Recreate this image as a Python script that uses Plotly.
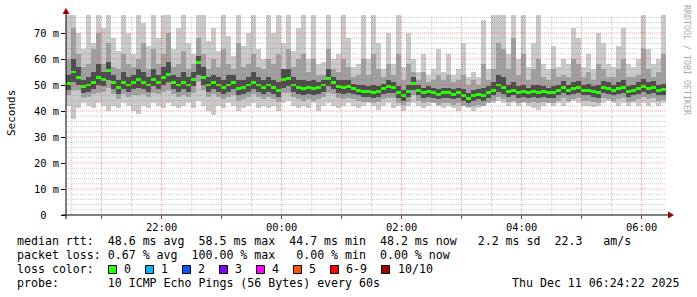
import plotly.graph_objects as go
from datetime import datetime, timedelta

# ---------------- data (ms), one value per 5-minute bin from 20:24:22 ----------------
median = [50.5,55,53,49.5,50,51,53,52,55.5,51,
          49,51,50,51,52,51,50,52,51,53,
          54,51,50,51,50,52,58.5,53,50,51,
          50,49,50,51,48.5,49,50,51,50,49,
          50,49,48,52,52.5,50,49,48.5,49,48.5,
          49,50,52.5,51,49.5,49,49.5,48.5,48,47.5,
          47.5,47,47.5,48.5,49.5,49,47,46,47.5,50.5,
          48,47,47.5,47,46.5,47,47,46.5,47,46,
          44.7,46,46.5,46,47,48,50,49,47.5,48,
          47,47.5,47,47.5,47,47.5,47,47,48,49,
          48,48.5,49,48,48,47.5,47,49,48.5,48,
          48.5,49,47.5,48,48.5,49.5,48.5,49,48,48.2]

ping_max = [77,77,70,64,77,66,77,72,77,68, 63,77,70,62,77,74,65,77,68,77,
            77,64,72,77,66,62,77,77,67,72, 63,77,69,61,77,65,70,77,64,60,
            77,70,77,66,77,63,72,
            77,60,77,58,59,77,60,62,77,68, 57,58,77,60,77,66,56,70,58,77,
            57,70,60,55,62,54,56,64,55,62, 54,56,66,53,55,53,75,56,77,
            77,77,62,77,60,77,57,66,77,58, 56,65,57,60,58,72,68,57,62,56,
            70,66,58,57,65,72,58,57,60,77, 64,58,60,77]

ping_hi2 = [60,72,62,57,58,64,70,58,66,57, 56,62,58,57,60,66,56,64,58,62,
            70,57,58,63,56,58,68,62,56,60, 57,64,58,56,66,57,58,62,57,56,
            60,58,62,56,64,57,60,
            62,55,60,54,54,64,56,55,60,57, 53,54,60,54,62,56,53,58,54,62,
            52,58,55,52,55,51,52,54,52,54, 51,52,54,50,52,50,58,52,56,
            66,64,56,68,54,62,52,56,60,53, 52,56,53,54,53,60,58,53,55,52,
            58,56,53,53,56,60,53,53,54,64, 56,53,55,62]

ping_hi3 = [54,60,57,52,53,55,58,55,59,54, 52,55,53,54,56,55,53,56,54,57,
            59,54,53,55,53,55,61,57,53,54, 53,52,54,54,52,52,53,55,53,52,
            53,52,51,56,56,53,52,52,51.5,52, 51,52,56,53,52,52,52,50.5,50,50,
            49.5,50,49.5,50.5,52,51,49.5,48,50,53, 50,49,49.5,49,48.5,49,49,48.5,49,48.5,
            47,48,48.5,49,49.5,51,54,53,50,51, 49.5,50,49,50,50,49.5,49,49.5,50,51.5,
            50,51,51.5,50,50.5,49.5,50,51.5,51,50, 51,52,49.5,50,51,52.5,51,51.5,50,50.5]

ping_lo3 = [48,51,50,47,47.5,48.5,50,49.5,52,48.5, 46.5,48.5,47.5,48.5,49,48.5,47.5,49.5,48.5,50,
            51,48.5,47.5,48.5,47.5,49.5,54,50,47.5,48.5, 47.5,46.5,47.5,48.5,46,46.5,47.5,48.5,47.5,46.5,
            47.5,46.5,45.5,49,49.5,47.5,46.5,46,46.5,46, 46.5,47.5,49.5,48.5,47,46.5,47,46.5,46,45.5,
            45.5,45,45.5,46.5,47,47,45,44,45.5,48, 46,45,45.5,45,44.5,45,45,44.5,45,44,
            43,44,44.5,44,45,46,47.5,46.5,45.5,46, 45,45.5,45,45.5,45,45.5,45,45,46,47,
            46,46.5,47,46,46,45.5,45,47,46.5,46, 46.5,47,45.5,46,46.5,47.5,46.5,47,46,46.2]

ping_lo2 = [46,48,48,45,45.5,46.5,47,47.5,49,46.5, 44.5,46.5,45.5,46,46,46.5,45.5,47,46.5,47.5,
            48,46.5,45.5,46,45.5,47,51,48,45.5,46.5, 45.5,44.5,45.5,46,44,44.5,45.5,46.5,45.5,44.5,
            45.5,44.5,43.5,47,47,45.5,44.5,44,44.5,44, 44.5,45.5,47,46.5,45,44.5,45,44.5,44,43.5,
            43.5,43,43.5,44.5,45,45,43,42.5,43.5,46, 44,43,43.5,43,42.5,43,43,42.5,43,42,
            41.5,42,42.5,42,43,44,45.5,44.5,43.5,44, 43,43.5,43,43.5,43,43.5,43,43,44,45,
            44,44.5,45,44,44,43.5,43,45,44.5,44, 44.5,45,43.5,44,44.5,45.5,44.5,45,44,44.2]

ping_min = [42,37,41,43,42,41,43,42,40,42, 41,43,42,40,39,42,41,43,42,41,
            43,42,41,42,43,41,44,42,40,38.5, 42,41,43,42,40,41,42,43,41,42,
            41,42,40,43,44,42,41,
            42,41,43,40,42,43,42,41,42,43, 42,41,42,43,42,40.5,42,43,41,42,
            40,42,43,42,41,42,43,42,41,42, 41,40,42,41,40,41,42,43,43,
            44,43,42,43,42,43,42,41,40.5,42, 43,42,43,42,43,44,43,42,42,41.5,
            42,43,44,43,42,43,42,43,42,43, 42,43,42,43]

y_ticks = [0, 10, 20, 30, 40, 50, 60, 70]
y_ticktext = ["0\u00a0\u00a0", "10\u00a0m", "20\u00a0m", "30\u00a0m", "40\u00a0m", "50\u00a0m", "60\u00a0m", "70\u00a0m"]
x_hours = [21, 22, 23, 0, 1, 2, 3, 4, 5, 6]

loss_labels = ["0", "1", "2", "3", "4", "5", "6-9", "10/10"]
loss_colors = ["#26ff00", "#00b8ff", "#0059ff", "#7e00ff", "#ff00ff", "#ff5500", "#ff0000", "#a10000"]

# ---------------- layout helpers ----------------
W, H = 697, 297
L, R, T, B = 66, 666, 15, 215
START = datetime(2025, 12, 10, 20, 24, 22)
END = datetime(2025, 12, 11, 6, 24, 22)
YMAX = (B - T) / 2.6
STEP = 5
MONO = "DejaVu Sans Mono"

def px(x):
    return (x - L) / (R - L)

def py(y):
    return (B - y) / (B - T)

def nb(s):
    return s.replace(" ", "\u00a0")

n = len(median)
assert all(len(a) == n for a in [ping_max, ping_hi2, ping_hi3, ping_lo3, ping_lo2, ping_min])
times = [START + timedelta(minutes=STEP * i + STEP / 2) for i in range(n)]
bw = STEP * 60 * 1000

fig = go.Figure()

def band(lo, hi, color):
    fig.add_trace(go.Bar(x=times, base=lo, y=[h - l for h, l in zip(hi, lo)], width=bw,
                         marker=dict(color=color, line=dict(width=0)), hoverinfo="skip",
                         showlegend=False))

band(ping_min, ping_max, "#cacaca")
band(ping_lo2, ping_hi2, "#a0a0a0")
band(ping_lo3, ping_hi3, "#4d4d4d")
fig.add_trace(go.Bar(x=times, base=[m - 0.55 for m in median], y=[1.1] * n, width=bw,
                     marker=dict(color=loss_colors[0], line=dict(width=0)), hoverinfo="skip",
                     showlegend=False))

# x tick positions
tickvals, ticktext = [], []
for h in x_hours:
    d = datetime(2025, 12, 10 if h >= 12 else 11, h, 0, 0)
    tickvals.append(d)
    ticktext.append(d.strftime("%H:%M") if h % 2 == 0 else "")

shapes = []
# grid (drawn above the data, like rrdtool)
minor_col = "rgba(120,120,120,0.38)"
major_col = "rgba(255,40,40,0.45)"
for v in range(2, int(YMAX) + 1, 2):
    if v % 10 == 0:
        continue
    shapes.append(dict(type="line", xref="paper", yref="y", x0=0, x1=1, y0=v, y1=v, layer="above",
                       line=dict(color=minor_col, width=1, dash="1px,1px")))
t = datetime(2025, 12, 10, 20, 30)
while t < END:
    if t.minute == 30:
        shapes.append(dict(type="line", xref="x", yref="paper", x0=t, x1=t, y0=0, y1=1, layer="above",
                           line=dict(color=minor_col, width=1, dash="1px,1px")))
    t += timedelta(minutes=30)
for v in y_ticks[1:]:
    shapes.append(dict(type="line", xref="paper", yref="y", x0=0, x1=1, y0=v, y1=v, layer="above",
                       line=dict(color=major_col, width=1, dash="1px,1px")))
for d in tickvals:
    shapes.append(dict(type="line", xref="x", yref="paper", x0=d, x1=d, y0=0, y1=1, layer="above",
                       line=dict(color=major_col, width=1, dash="1px,1px")))

# axes lines + arrows
shapes.append(dict(type="line", xref="paper", yref="paper", x0=px(62), x1=px(669), y0=0, y1=0,
                   layer="above", line=dict(color="black", width=1)))
shapes.append(dict(type="line", xref="paper", yref="paper", x0=0, x1=0, y0=py(219), y1=py(12),
                   layer="above", line=dict(color="black", width=1)))
shapes.append(dict(type="path", xref="paper", yref="paper", layer="above",
                   path=f"M {px(668)} {py(211.5)} L {px(674)} {py(215)} L {px(668)} {py(218.5)} Z",
                   fillcolor="#990000", line=dict(color="#990000", width=0)))
shapes.append(dict(type="path", xref="paper", yref="paper", layer="above",
                   path=f"M {px(62.5)} {py(14)} L {px(66)} {py(8)} L {px(69.5)} {py(14)} Z",
                   fillcolor="#990000", line=dict(color="#990000", width=0)))

# loss color boxes
box_left = [108.5, 145.5, 182.5, 219.5, 256.5, 293.5, 330.5, 381.5]
label_left = [123, 160, 197, 234, 271, 308, 345, 397]
for bl, c in zip(box_left, loss_colors):
    shapes.append(dict(type="rect", xref="paper", yref="paper", x0=px(bl), x1=px(bl + 8),
                       y0=py(273.5), y1=py(265.5), fillcolor=c, line=dict(color="black", width=1)))

annotations = []
def text(s, x, y, size=11.6, xanchor="left", color="black", angle=0):
    annotations.append(dict(text=nb(s), x=px(x), y=py(y), xref="paper", yref="paper",
                            showarrow=False, xanchor=xanchor, yanchor="middle", borderpad=0,
                            textangle=angle, font=dict(family=MONO, size=size, color=color)))

text("median rtt:  48.6 ms avg  58.5 ms max  44.7 ms min  48.2 ms now   2.2 ms sd  22.3   am/s", 16, 241)
text("packet loss: 0.67 % avg  100.00 % max   0.00 % min  0.00 % now", 16, 255)
text("loss color:", 16, 269)
for lbl, xl in zip(loss_labels, label_left):
    text(lbl, xl, 269)
text("probe:       10 ICMP Echo Pings (56 Bytes) every 60s", 16, 283)
text("Thu Dec 11 06:24:22 2025", 681, 283, xanchor="right")
text("Seconds", 11, 113, size=11, xanchor="center", angle=-90)
text("RRDTOOL / TOBI OETIKER", 687, 60, size=8.3, xanchor="center", color="#a8a8a8", angle=90)

fig.update_layout(
    width=W, height=H, margin=dict(l=L, r=W - R, t=T, b=H - B),
    paper_bgcolor="white", plot_bgcolor="white",
    barmode="overlay", bargap=0, showlegend=False,
    shapes=shapes, annotations=annotations,
    font=dict(family=MONO, size=10.4, color="black"),
    xaxis=dict(type="date", range=[START, END], tickmode="array", tickvals=tickvals, ticktext=ticktext,
               showgrid=False, zeroline=False, showline=False, ticks="outside", ticklen=3,
               tickcolor="#b03030", tickfont=dict(family=MONO, size=10.4, color="black")),
    yaxis=dict(range=[0, YMAX], tickmode="array", tickvals=y_ticks, ticktext=y_ticktext,
               showgrid=False, zeroline=False, showline=False, ticks="outside", ticklen=4,
               tickcolor="black", tickfont=dict(family=MONO, size=10.4, color="black")),
)

fig.write_html("out.html")
